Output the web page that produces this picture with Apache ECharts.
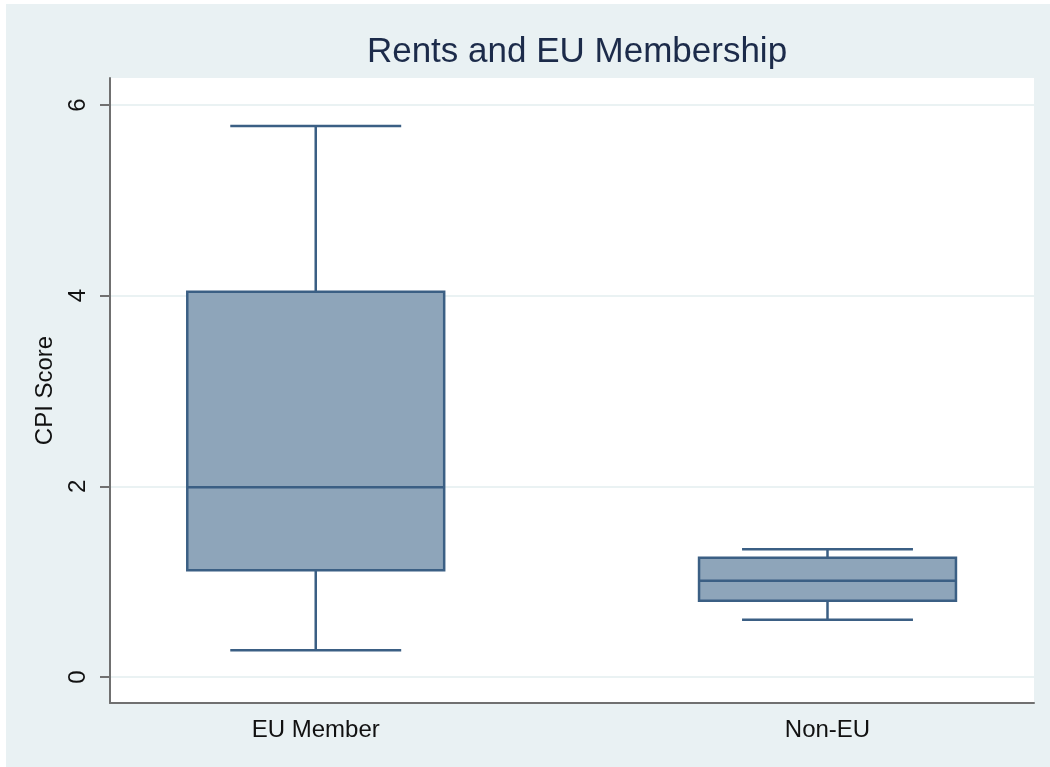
<!DOCTYPE html>
<html>
<head>
<meta charset="utf-8">
<script src="https://cdn.jsdelivr.net/npm/echarts@6/dist/echarts.min.js"></script>
<style>
  html, body { margin: 0; padding: 0; background: #fff; overflow: hidden; }
  #chart { width: 1050px; height: 767px; }
</style>
</head>
<body>
<div id="chart"></div>
<script>
// data
var categories = ['EU Member', 'Non-EU'];
var lowWhisker = [0.28, 0.60];
var lowerQuartile = [1.12, 0.80];
var medians = [1.99, 1.01];
var upperQuartile = [4.04, 1.25];
var highWhisker = [5.78, 1.34];
var yTicks = [0, 2, 4, 6];

var boxData = categories.map(function (c, i) {
    return [i + 1, lowWhisker[i], lowerQuartile[i], medians[i], upperQuartile[i], highWhisker[i]];
});

var font = 'Liberation Sans, Arial, sans-serif';
var lineColor = '#3b5f84';
var fillColor = '#8ea5ba';
var xMin = 0.598, xMax = 2.4035;

//画箱线
function renderBox(params, api) {
    var x = api.value(0);
    var lo = api.coord([x, api.value(1)]);
    var q1 = api.coord([x, api.value(2)]);
    var md = api.coord([x, api.value(3)]);
    var q3 = api.coord([x, api.value(4)]);
    var hi = api.coord([x, api.value(5)]);
    var boxW = api.size([0.502, 0])[0];
    var capW = api.size([0.334, 0])[0];
    var cx = lo[0];
    var st = { stroke: lineColor, lineWidth: 2.5, fill: null };
    return {
        type: 'group',
        children: [
            { type: 'line', shape: { x1: cx, y1: hi[1], x2: cx, y2: q3[1] }, style: st },
            { type: 'line', shape: { x1: cx, y1: lo[1], x2: cx, y2: q1[1] }, style: st },
            { type: 'line', shape: { x1: cx - capW / 2, y1: hi[1], x2: cx + capW / 2, y2: hi[1] }, style: st },
            { type: 'line', shape: { x1: cx - capW / 2, y1: lo[1], x2: cx + capW / 2, y2: lo[1] }, style: st },
            { type: 'rect', shape: { x: cx - boxW / 2, y: q3[1], width: boxW, height: q1[1] - q3[1] },
              style: { fill: fillColor, stroke: lineColor, lineWidth: 2.5 } },
            { type: 'line', shape: { x1: cx - boxW / 2, y1: md[1], x2: cx + boxW / 2, y2: md[1] }, style: st }
        ]
    };
}

var myChart = echarts.init(document.getElementById('chart'));
var option = {
    backgroundColor: '#e9f1f3',
    animation: false,
    graphic: [
        { type: 'rect', shape: { x: 0, y: 0, width: 1050, height: 4 }, style: { fill: '#fff' } },
        { type: 'rect', shape: { x: 0, y: 0, width: 6, height: 767 }, style: { fill: '#fff' } }
    ],
    title: {
        text: 'Rents and EU Membership',
        left: 572,
        textAlign: 'center',
        top: 30,
        textStyle: { fontFamily: font, fontSize: 35, fontWeight: 'normal', color: '#1c2b4a' }
    },
    grid: [
        // 外框
        { left: 110, right: 16, top: 78, bottom: 64, show: true, backgroundColor: '#fff', borderWidth: 0 },
        // 数据区
        { left: 110, right: 16, top: 105, bottom: 90 }
    ],
    xAxis: [
        {
            gridIndex: 0, type: 'value', min: xMin, max: xMax,
            axisLine: { show: true, onZero: false, lineStyle: { color: '#707070', width: 2 } },
            axisTick: { show: false },
            splitLine: { show: false },
            axisLabel: {
                customValues: [1, 2],
                margin: 15,
                fontFamily: font, fontSize: 24, color: '#111',
                formatter: function (v) { return categories[Math.round(v) - 1]; }
            }
        },
        { gridIndex: 1, type: 'value', min: xMin, max: xMax, show: false }
    ],
    yAxis: [
        {
            gridIndex: 0, type: 'value', min: -0.273, max: 6.283,
            name: 'CPI Score', nameLocation: 'middle', nameGap: 53,
            nameTextStyle: { fontFamily: font, fontSize: 24, color: '#111' },
            axisLine: { show: true, onZero: false, lineStyle: { color: '#707070', width: 2 } },
            axisTick: { show: false }, axisLabel: { show: false }, splitLine: { show: false }
        },
        {
            gridIndex: 1, type: 'value', min: yTicks[0], max: yTicks[yTicks.length - 1], interval: 2,
            axisLine: { show: false },
            axisTick: { show: true, length: 10, lineStyle: { color: '#707070', width: 2 } },
            axisLabel: { rotate: 90, margin: 20, fontFamily: font, fontSize: 24, color: '#111' },
            splitLine: { show: true, lineStyle: { color: '#eaf2f3', width: 2 } }
        }
    ],
    series: [{
        type: 'custom',
        xAxisIndex: 1,
        yAxisIndex: 1,
        renderItem: renderBox,
        data: boxData
    }]
};
myChart.setOption(option);
</script>
</body>
</html>
